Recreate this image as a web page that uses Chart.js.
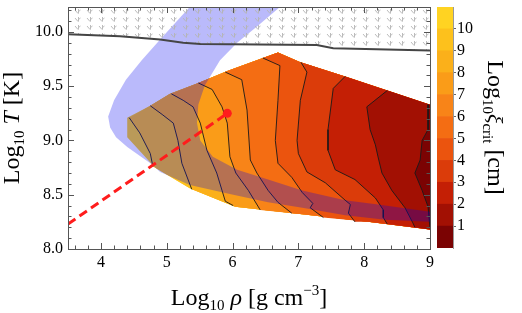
<!DOCTYPE html>
<html>
<head>
<meta charset="utf-8">
<script src="https://cdn.jsdelivr.net/npm/chart.js@4.4.1/dist/chart.umd.min.js"></script>
<style>
  html, body { margin: 0; padding: 0; background: #fff; overflow: hidden; }
  #wrap { position: relative; width: 522px; height: 313px; }
  #main { position: absolute; left: 0; top: 0; }
  #bar { position: absolute; left: 430px; top: 0; }
</style>
</head>
<body>
<div id="wrap">
  <canvas id="main" width="522" height="313"></canvas>
  <canvas id="bar" width="92" height="313"></canvas>
</div>
<script>
const FONT = "'Liberation Serif', 'DejaVu Serif', serif";

// axes
const X_RANGE = [3.5, 9];
const Y_RANGE = [8, 10.23];
const X_TICKS = [4, 5, 6, 7, 8, 9];
const Y_TICKS = [8, 8.5, 9, 9.5, 10];
const Y_TICK_LABELS = ["8.0", "8.5", "9.0", "9.5", "10.0"];

// colour bar: level bounds 0..11, labels 1..10
const CB_LEVELS = [0, 1, 2, 3, 4, 5, 6, 7, 8, 9, 10, 11];
const CB_TICKS = [1, 2, 3, 4, 5, 6, 7, 8, 9, 10];
const LEVEL_COLORS = [
  "#7b0303", "#a21003", "#c41f05", "#db3c0a", "#eb540e", "#f46d13",
  "#f88418", "#fa9c18", "#fbb01a", "#fdc11c", "#ffd322",
];

// outline of the filled contour region (log rho, log T)
const REGION_TOP = [
  [4.40, 9.21], [4.75, 9.32], [5.05, 9.43], [5.48, 9.53], [5.92, 9.64],
  [6.69, 9.81], [7.03, 9.72], [7.71, 9.59], [8.35, 9.46], [9.0, 9.33],
];
const REGION_BOTTOM = [
  [4.40, 9.03], [4.82, 8.75], [5.35, 8.56], [6.04, 8.39], [7.06, 8.32],
  [8.06, 8.25], [9.0, 8.18],
];

// contour lines, left (level 10) to right (level 1)
const C10 = [[4.43, 9.21], [4.59, 9.07], [4.75, 8.88], [4.79, 8.76]];
const C9 = [[4.75, 9.32], [4.93, 9.24], [5.10, 9.16], [5.17, 9.00], [5.23, 8.79], [5.38, 8.55]];
const C8 = [[5.07, 9.43], [5.25, 9.37], [5.40, 9.31], [5.51, 9.16], [5.61, 8.91], [5.76, 8.70], [5.84, 8.54], [5.89, 8.44], [6.01, 8.40]];
const C7 = [[5.48, 9.53], [5.69, 9.47], [5.84, 9.31], [5.92, 9.16], [5.96, 8.85], [6.05, 8.70], [6.24, 8.54], [6.42, 8.36]];
const C6 = [[5.89, 9.63], [6.14, 9.56], [6.22, 9.28], [6.27, 8.82], [6.37, 8.70], [6.54, 8.54], [6.69, 8.43], [6.90, 8.33]];
const C5 = [[6.46, 9.76], [6.72, 9.69], [6.69, 9.37], [6.65, 9.00], [6.69, 8.79], [6.90, 8.66], [7.06, 8.52], [7.22, 8.42], [7.18, 8.38], [7.38, 8.29]];
const C4 = [[7.04, 9.72], [7.13, 9.63], [7.03, 9.37], [6.98, 9.00], [7.00, 8.88], [7.13, 8.71], [7.41, 8.61], [7.71, 8.45], [7.79, 8.41], [7.76, 8.33], [7.86, 8.25]];
const C3 = [[7.71, 9.59], [7.53, 9.48], [7.45, 9.10], [7.45, 8.91], [7.56, 8.73], [7.86, 8.64], [8.17, 8.47], [8.29, 8.36], [8.29, 8.29], [8.35, 8.23]];
const C2 = [[8.35, 9.46], [8.04, 9.31], [8.09, 9.10], [8.17, 8.96], [8.21, 8.85], [8.27, 8.70], [8.42, 8.54], [8.62, 8.38], [8.74, 8.24], [8.77, 8.20]];
const C1 = [[8.97, 9.33], [8.97, 9.10], [8.88, 9.00], [8.85, 8.82], [8.77, 8.70], [8.88, 8.54], [8.97, 8.39], [9.0, 8.19]];
const CONTOURS = [C10, C9, C8, C7, C6, C5, C4, C3, C2, C1];

// blue band
const BAND_OUTER = [
  [5.58, 10.39], [5.35, 10.23], [5.20, 10.13], [4.90, 9.93], [4.62, 9.74],
  [4.38, 9.56], [4.20, 9.37], [4.11, 9.22], [4.14, 9.12], [4.23, 9.03],
  [4.40, 8.94], [4.75, 8.79], [4.90, 8.71], [5.35, 8.59], [6.01, 8.50],
  [6.54, 8.43], [7.06, 8.38], [7.71, 8.31], [8.32, 8.27], [9.05, 8.25],
];
const BAND_INNER = [
  [6.98, 10.39], [6.72, 10.23], [6.39, 10.06], [6.07, 9.90], [5.81, 9.74],
  [5.58, 9.51], [5.48, 9.33], [5.46, 9.16], [5.51, 9.00], [5.70, 8.85],
  [6.07, 8.73], [6.54, 8.64], [7.06, 8.54], [7.71, 8.45], [8.21, 8.41],
  [9.05, 8.34],
];

// upper limit curve, hatched above
const LIMIT_LINE = [
  [3.5, 9.98], [4.29, 9.96], [4.90, 9.93], [5.25, 9.90], [5.51, 9.89],
  [7.28, 9.88], [7.53, 9.85], [9.0, 9.83],
];
const HATCH_TOP = [[9.2, 10.5], [3.3, 10.5]];

// red dashed track ending in a dot
const TRACK = [[3.5, 8.23], [5.92, 9.25]];

const Y_TITLE = [
  { t: "Log", size: 24 }, { t: "10", size: 15, dy: 5 },
  { t: " ", size: 24 }, { t: "T", size: 24, italic: true }, { t: " [K]", size: 24 },
];
const X_TITLE = [
  { t: "Log", size: 24 }, { t: "10", size: 15, dy: 5 },
  { t: " ", size: 24 }, { t: "ρ", size: 24, italic: true },
  { t: " [g cm", size: 24 }, { t: "−3", size: 15, dy: -10 }, { t: "]", size: 24 },
];
const CB_TITLE = [
  { t: "Log", size: 24 }, { t: "10", size: 15, dy: 5 },
  { t: "ξ", size: 22, italic: true }, { t: "crit", size: 15, dy: 5 }, { t: " [cm]", size: 24 },
];

const toXY = (pts) => pts.map(([x, y]) => ({ x, y }));

// everything to the right of a contour line, inside the region
const rightOf = (line) => {
  const x0 = line[0][0];
  const x1 = line[line.length - 1][0];
  return [
    ...line,
    ...REGION_BOTTOM.filter((p) => p[0] > x1),
    ...REGION_TOP.filter((p) => p[0] > x0).reverse(),
  ];
};

const fillSet = (pts, color) => ({
  data: toXY(pts),
  showLine: true,
  fill: "shape",
  backgroundColor: color,
  borderWidth: 0,
  pointRadius: 0,
});

const lineSet = (pts, color, width, extra = {}) => ({
  data: toXY(pts),
  showLine: true,
  fill: false,
  borderColor: color,
  borderWidth: width,
  pointRadius: 0,
  ...extra,
});

const makeHatch = () => {
  const c = document.createElement("canvas");
  c.width = 12;
  c.height = 8;
  const g = c.getContext("2d");
  g.strokeStyle = "#b4b4b4";
  g.lineWidth = 0.9;
  g.beginPath();
  g.moveTo(3, 2);
  g.lineTo(6, 5.5);
  g.moveTo(6.5, 1);
  g.lineTo(6.5, 5.5);
  g.moveTo(6.5, 3.5);
  g.lineTo(8.5, 2);
  g.stroke();
  return g.createPattern(c, "repeat");
};

const drawRich = (ctx, parts, x, y, angle) => {
  ctx.save();
  ctx.translate(x, y);
  ctx.rotate(angle);
  ctx.fillStyle = "#000";
  ctx.textBaseline = "alphabetic";
  const fontOf = (p) => `${p.italic ? "italic " : ""}${p.size}px ${FONT}`;
  let total = 0;
  const widths = parts.map((p) => {
    ctx.font = fontOf(p);
    const w = ctx.measureText(p.t).width;
    total += w;
    return w;
  });
  let cx = -total / 2;
  parts.forEach((p, i) => {
    ctx.font = fontOf(p);
    ctx.fillText(p.t, cx, p.dy || 0);
    cx += widths[i];
  });
  ctx.restore();
};

const minorSteps = (from, to, step, majors) => {
  const out = [];
  const n = Math.round((to - from) / step);
  for (let i = 0; i <= n; i++) {
    const v = +(from + i * step).toFixed(3);
    if (!majors.some((m) => Math.abs(m - v) < 1e-6)) out.push(v);
  }
  return out;
};
const X_MINOR = minorSteps(3.6, 9, 0.2, X_TICKS);
const Y_MINOR = minorSteps(8.1, 10.2, 0.1, Y_TICKS);

const framePlugin = {
  id: "frame",
  afterDatasetsDraw(chart) {
    const { ctx, chartArea: a, scales } = chart;
    const { x, y } = scales;
    ctx.save();
    ctx.strokeStyle = "#555";
    ctx.lineWidth = 1;
    ctx.strokeRect(a.left + 0.5, a.top + 0.5, a.width, a.height);
    ctx.beginPath();
    const xTick = (v, len) => {
      const px = Math.round(x.getPixelForValue(v)) + 0.5;
      ctx.moveTo(px, a.bottom);
      ctx.lineTo(px, a.bottom - len);
      ctx.moveTo(px, a.top);
      ctx.lineTo(px, a.top + len);
    };
    const yTick = (v, len) => {
      const py = Math.round(y.getPixelForValue(v)) + 0.5;
      ctx.moveTo(a.left, py);
      ctx.lineTo(a.left + len, py);
      ctx.moveTo(a.right, py);
      ctx.lineTo(a.right - len, py);
    };
    X_TICKS.forEach((v) => xTick(v, 6));
    X_MINOR.forEach((v) => xTick(v, 3.5));
    Y_TICKS.forEach((v) => yTick(v, 6));
    Y_MINOR.forEach((v) => yTick(v, 3.5));
    ctx.stroke();
    ctx.restore();
  },
  afterDraw(chart) {
    const { ctx, chartArea: a } = chart;
    drawRich(ctx, X_TITLE, (a.left + a.right) / 2, 305, 0);
    drawRich(ctx, Y_TITLE, 19, (a.top + a.bottom) / 2, -Math.PI / 2);
  },
};

const datasets = [
  fillSet([...REGION_TOP, ...REGION_BOTTOM.slice().reverse()], LEVEL_COLORS[10]),
  ...CONTOURS.map((c, k) => fillSet(rightOf(c), LEVEL_COLORS[9 - k])),
  ...CONTOURS.map((c) => lineSet(c, "#1a1a1a", 0.9)),
  fillSet([...BAND_OUTER, ...BAND_INNER.slice().reverse()], "rgba(0, 0, 240, 0.27)"),
  fillSet([...LIMIT_LINE, ...HATCH_TOP], makeHatch()),
  lineSet(LIMIT_LINE, "#454545", 2),
  lineSet(TRACK, "#ff1c1c", 3, {
    borderDash: [9, 5],
    pointRadius: [0, 4.5],
    pointBackgroundColor: "#ff1c1c",
    pointBorderWidth: 0,
  }),
];
// first in the list is painted first
datasets.forEach((d, i) => (d.order = datasets.length - i));

const tickFont = { family: FONT, size: 16 };

new Chart(document.getElementById("main"), {
  type: "scatter",
  data: { datasets },
  options: {
    responsive: false,
    animation: false,
    events: [],
    devicePixelRatio: 1,
    layout: { autoPadding: false, padding: { top: 7, right: 92, left: 0, bottom: 0 } },
    plugins: { legend: { display: false }, tooltip: { enabled: false } },
    scales: {
      x: {
        type: "linear",
        min: X_RANGE[0],
        max: X_RANGE[1],
        afterBuildTicks: (s) => { s.ticks = X_TICKS.map((value) => ({ value })); },
        afterFit: (s) => { s.height = 64; s.paddingLeft = 0; s.paddingRight = 0; },
        grid: { display: false, drawTicks: false },
        border: { display: false },
        ticks: { font: tickFont, color: "#000", padding: 4, maxRotation: 0, autoSkip: false, callback: (v) => String(v) },
      },
      y: {
        type: "linear",
        min: Y_RANGE[0],
        max: Y_RANGE[1],
        afterBuildTicks: (s) => { s.ticks = Y_TICKS.map((value) => ({ value })); },
        afterFit: (s) => { s.width = 68; s.paddingTop = 0; s.paddingBottom = 0; },
        grid: { display: false, drawTicks: false },
        border: { display: false },
        ticks: {
          font: tickFont,
          color: "#000",
          padding: 5,
          autoSkip: false,
          callback: (v) => Y_TICK_LABELS[Y_TICKS.indexOf(v)],
        },
      },
    },
  },
  plugins: [framePlugin],
});

const cbTitlePlugin = {
  id: "cbTitle",
  afterDraw(chart) {
    const { ctx, chartArea: a } = chart;
    drawRich(ctx, CB_TITLE, 58, (a.top + a.bottom) / 2, Math.PI / 2);
  },
};

new Chart(document.getElementById("bar"), {
  type: "bar",
  data: {
    labels: [""],
    datasets: LEVEL_COLORS.map((c, i) => ({
      data: [[CB_LEVELS[i], CB_LEVELS[i + 1]]],
      backgroundColor: c,
      borderWidth: 0,
      grouped: false,
      barPercentage: 1,
      categoryPercentage: 1,
    })),
  },
  options: {
    responsive: false,
    animation: false,
    events: [],
    devicePixelRatio: 1,
    layout: { autoPadding: false, padding: { left: 7, top: 7, right: 0, bottom: 65 } },
    plugins: { legend: { display: false }, tooltip: { enabled: false } },
    scales: {
      x: { display: false },
      y: {
        position: "right",
        min: CB_LEVELS[0],
        max: CB_LEVELS[CB_LEVELS.length - 1],
        afterBuildTicks: (s) => { s.ticks = CB_TICKS.map((value) => ({ value })); },
        afterFit: (s) => { s.width = 69; s.paddingTop = 0; s.paddingBottom = 0; },
        grid: { drawOnChartArea: false, tickLength: 3, color: "#666" },
        border: { display: true, color: "#999" },
        ticks: { font: tickFont, color: "#000", padding: 1, autoSkip: false, callback: (v) => String(v) },
      },
    },
  },
  plugins: [cbTitlePlugin],
});
</script>
</body>
</html>
